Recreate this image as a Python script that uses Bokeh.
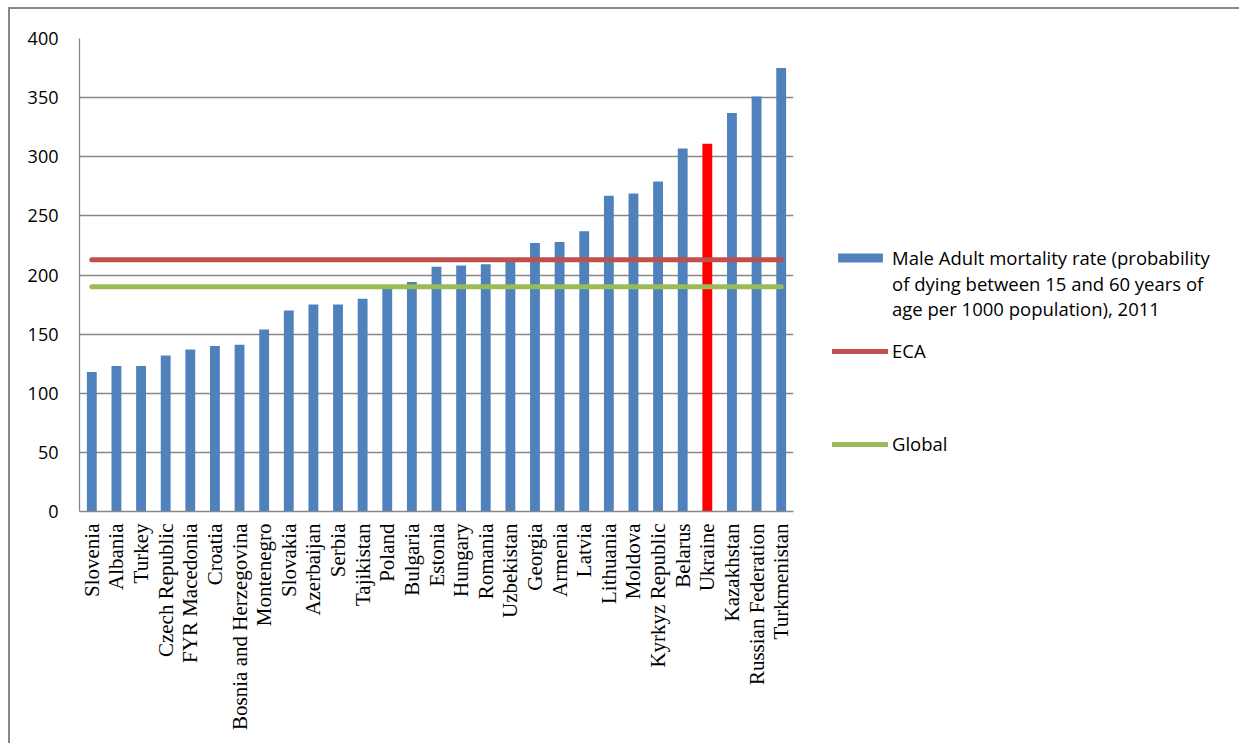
import math
from bokeh.plotting import figure
from bokeh.layouts import row
from bokeh.models import Legend, LegendItem, Range1d, FactorRange, ColumnDataSource
from bokeh.embed import file_html
from bokeh.resources import INLINE

# ---- data ----
countries = ["Slovenia", "Albania", "Turkey", "Czech Republic", "FYR Macedonia",
             "Croatia", "Bosnia and Herzegovina", "Montenegro", "Slovakia",
             "Azerbaijan", "Serbia", "Tajikistan", "Poland", "Bulgaria",
             "Estonia", "Hungary", "Romania", "Uzbekistan", "Georgia", "Armenia",
             "Latvia", "Lithuania", "Moldova", "Kyrkyz Republic", "Belarus",
             "Ukraine", "Kazakhstan", "Russian Federation", "Turkmenistan"]
mortality = [118, 123, 123, 132, 137, 140, 141, 154, 170, 175, 175, 180, 189,
             194, 207, 208, 209, 211, 227, 228, 237, 267, 269, 279, 307, 311,
             337, 351, 375]
eca_value = 213
global_value = 190
highlight = "Ukraine"
y_ticks = [0, 50, 100, 150, 200, 250, 300, 350, 400]
bar_label_lines = ["Male Adult mortality rate (probability",
                   "of dying between 15 and 60 years of",
                   "age per 1000 population), 2011"]
eca_label = "ECA"
global_label = "Global"

# ---- styles ----
BLUE = "#4F81BD"
RED = "#FF0000"
ECA_C = "#C0504D"
GLB_C = "#9BBB59"
GRID = "#878787"
LW = 5
SANS = "Open Sans"

colors = [RED if c == highlight else BLUE for c in countries]
src = ColumnDataSource(dict(country=countries, value=mortality, color=colors))

p = figure(x_range=FactorRange(*countries), y_range=Range1d(0, 400),
           width=791, height=734, output_backend="svg", toolbar_location=None,
           min_border_left=69, min_border_top=29, min_border_right=8,
           min_border_bottom=232)
p.outline_line_color = None

p.vbar(x="country", top="value", width=0.4, fill_color="color",
       line_color=None, source=src)
p.line(x=countries, y=[eca_value] * len(countries), line_color=ECA_C,
       line_width=LW, line_cap="round")
p.line(x=countries, y=[global_value] * len(countries), line_color=GLB_C,
       line_width=LW, line_cap="round")

p.xgrid.visible = False
p.ygrid.grid_line_color = GRID
p.ygrid.grid_line_width = 1.3
p.ygrid.ticker = y_ticks

p.yaxis.ticker = y_ticks
p.yaxis.axis_line_color = GRID
p.yaxis.axis_line_width = 1.3
p.yaxis.major_tick_line_color = None
p.yaxis.major_tick_out = 0
p.yaxis.major_tick_in = 0
p.yaxis.minor_tick_line_color = None
p.yaxis.major_label_standoff = 21
p.yaxis.major_label_text_font = SANS
p.yaxis.major_label_text_font_size = "18px"
p.yaxis.major_label_text_color = "#000000"

p.xaxis.axis_line_color = GRID
p.xaxis.axis_line_width = 1.3
p.xaxis.major_tick_line_color = None
p.xaxis.major_tick_out = 0
p.xaxis.major_tick_in = 0
p.xaxis.minor_tick_line_color = None
p.xaxis.major_label_orientation = math.pi / 2
p.xaxis.major_label_standoff = 12
p.xaxis.major_label_text_font = "Liberation Serif"
p.xaxis.major_label_text_font_size = "21px"
p.xaxis.major_label_text_color = "#000000"

# ---- legend panel (separate figure; its frame is aligned with the main frame) ----
QW, QH = 438, 734
q = figure(width=QW, height=QH, x_range=Range1d(0, QW), y_range=Range1d(0, QH),
           output_backend="svg", toolbar_location=None,
           x_axis_location=None, y_axis_location=None,
           min_border=0, min_border_left=0, min_border_right=0,
           min_border_top=0, min_border_bottom=0)
q.grid.visible = False
q.outline_line_color = None

# key glyphs for the legend, kept out of view
k_bar = q.vbar(x=[-QW], top=[-QH], width=1, fill_color=BLUE, line_color=None)
k_eca = q.line(x=[-QW, -QW + 1], y=[-QH, -QH], line_color=ECA_C,
               line_width=LW, line_cap="round")
k_glb = q.line(x=[-QW, -QW + 1], y=[-QH, -QH], line_color=GLB_C,
               line_width=LW, line_cap="round")
k_none = q.line(x=[-QW, -QW + 1], y=[-QH, -QH], line_alpha=0)


def make_legend(label, rend, loc, gh):
    return Legend(items=[LegendItem(label=label, renderers=[rend])],
                  location=loc, padding=0, margin=0,
                  border_line_color=None, background_fill_alpha=0,
                  glyph_width=56, glyph_height=gh, label_height=20,
                  label_standoff=4, label_text_font=SANS,
                  label_text_font_size="18.5px", label_text_color="#000000")


# locations: bottom-left of each legend, px above the frame bottom
q.add_layout(make_legend(bar_label_lines[0], k_bar, (31, 241), 11))
q.add_layout(make_legend(bar_label_lines[1], k_none, (31, 215), 11))
q.add_layout(make_legend(bar_label_lines[2], k_none, (31, 190), 11))
q.add_layout(make_legend(eca_label, k_eca, (31, 148), 20))
q.add_layout(make_legend(global_label, k_glb, (31, 55), 20))

layout = row(p, q, styles={"margin-left": "8px", "margin-top": "7px",
                           "border-left": "2px solid #878787",
                           "border-top": "2px solid #878787"})

open("out.html", "w").write(file_html(layout, INLINE))
